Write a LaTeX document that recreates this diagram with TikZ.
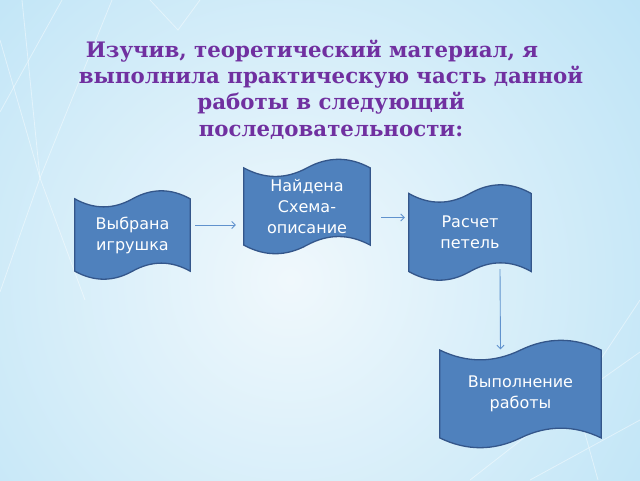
\documentclass[tikz,border=0pt]{standalone}
\usepackage{fontspec}
\setmainfont{DejaVu Sans}
\newfontfamily\titlefont{DejaVu Serif}
\usetikzlibrary{arrows.meta,positioning,calc,backgrounds}
\definecolor{tapefill}{RGB}{79,129,189}
\definecolor{tapeedge}{RGB}{52,86,138}
\definecolor{flowline}{RGB}{96,146,205}
\definecolor{titleink}{RGB}{112,48,160}
\definecolor{bgcentre}{RGB}{240,248,252}
\definecolor{bgedge}{RGB}{150,212,242}

\tikzset{
  tapebox/.style={text=white,align=center,inner sep=0pt,
    font=\fontsize{16}{21}\selectfont},
  tapeshape/.style={fill=tapefill,draw=tapeedge,line width=1.3pt},
  flowarrow/.style={draw=flowline,line width=0.9pt,
    -{Straight Barb[length=3.5pt,width=7pt]}},
  bgline/.style={draw=white,opacity=0.45,line width=0.8pt},
  titletext/.style={text=titleink,align=center,inner sep=0pt,
    font=\titlefont\bfseries\fontsize{21.3}{26.3}\selectfont}
}

% punched-tape outline round a node
\newcommand\drawtape[1]{%
  \path[tapeshape] let \p1=(#1.north west), \p2=(#1.south east),
    \p3=(#1.north), \n1={(\x2-\x1)/6}, \n3={(\y1-\y2)/11},
    \n4={(\y1-\y2)/11*7/3} in
    (\x1,\y1-\n3) .. controls (\x1+\n1,\y1-\n4) and (\x1+2*\n1,\y1-\n4) .. (\x3,\y1-\n3)
    .. controls (\x3+\n1,\y1+\n3/3) and (\x3+2*\n1,\y1+\n3/3) .. (\x2,\y1-\n3)
    -- (\x2,\y2+\n3)
    .. controls (\x2-\n1,\y2+\n4) and (\x2-2*\n1,\y2+\n4) .. (\x3,\y2+\n3)
    .. controls (\x3-\n1,\y2-\n3/3) and (\x3-2*\n1,\y2-\n3/3) .. (\x1,\y2+\n3)
    -- cycle;}

\begin{document}
\begin{tikzpicture}[x=1pt,y=-1pt]
  \path[use as bounding box] (0,0) rectangle (640,480);

  \node[titletext] (title) at (331,89.5)
    {Изучив, теоретический материал, я\hspace*{38pt}\\
     выполнила практическую часть данной\\
     работы в следующий\\
     последовательности:};

  \node[tapebox,minimum width=115pt,minimum height=88pt] (toy) at (132.5,235)
    {Выбрана\\игрушка};
  \node[tapebox,minimum width=126pt,minimum height=94pt] (scheme) at (307,206.5)
    {Найдена\\Схема-\\описание};
  \node[tapebox,minimum width=122pt,minimum height=95pt] (calc) at (470,232.5)
    {Расчет\\петель};
  \node[tapebox,minimum width=161pt,minimum height=107pt] (work) at (520.5,394)
    {Выполнение\\работы};

  \begin{scope}[on background layer]
    \clip (0,0) rectangle (640,480);
    \shade[inner color=bgcentre,outer color=bgedge] (290,280) circle (800pt);
    % faint background lines
    \draw[bgline] (0,112) -- (62,0);
    \draw[bgline] (22,0) -- (40,178) -- (0,292);
    \draw[bgline] (40,178) -- (112,0);
    \draw[bgline] (0,40) -- (40,178) -- (85,300);
    \draw[bgline] (150,0) -- (178,30) -- (200,0);
    \draw[bgline] (640,352) -- (575,398) -- (598,480);
    \draw[bgline] (575,398) -- (470,480);
    \draw[bgline] (530,480) -- (640,420);
    \draw[bgline] (575,398) -- (640,300);
    \drawtape{toy}
    \drawtape{scheme}
    \drawtape{calc}
    \drawtape{work}
  \end{scope}

  \draw[flowarrow] ([shift={(5,-10)}]toy.east) -- ([shift={(-8,-10)}]scheme.west |- toy.east);
  \draw[flowarrow] ([shift={(11,11)}]scheme.east) -- ([shift={(-4,11)}]calc.west |- scheme.east);
  \draw[flowarrow] ([shift={(30,-11)}]calc.south) -- ([shift={(-20,9)}]work.north);
\end{tikzpicture}
\end{document}
